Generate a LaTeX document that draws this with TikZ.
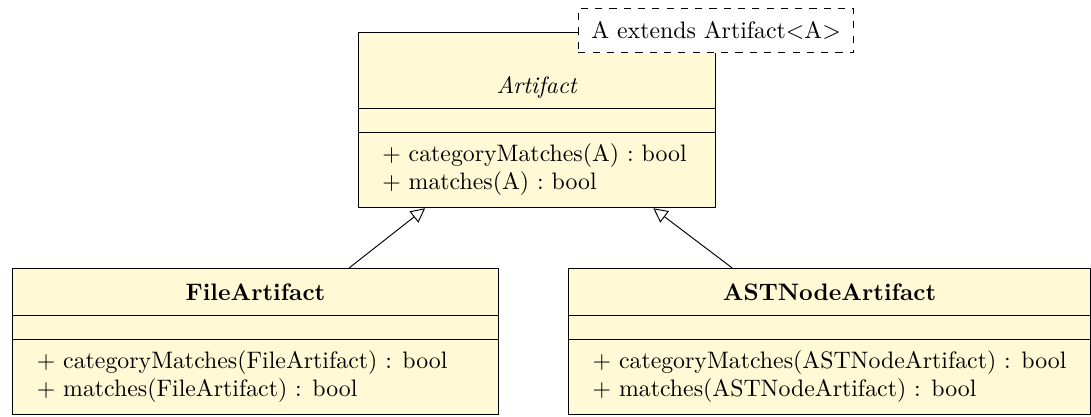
\documentclass[tikz,border=0pt]{standalone}
\usepackage{tikz}
\usetikzlibrary{shapes.multipart}
\usetikzlibrary{arrows.meta}
\usetikzlibrary{positioning}

\definecolor{umlfill}{RGB}{255,249,214}
\tikzset{
    umlclass/.style={rectangle split, rectangle split parts=3, draw, fill=umlfill,
        inner xsep=10pt, inner ysep=0pt, align=left, anchor=north,
        rectangle split part align={center, left, left}},
    umltemplate/.style={draw, dashed, fill=white, inner xsep=5.5pt, minimum height=18.5pt},
    inherit/.style={-{Triangle[open, length=6pt, width=6pt]}}
}
\newcommand{\titlestrut}{\rule[-6.1pt]{0pt}{19.3pt}}
\newcommand{\emptystrut}{\rule{0pt}{9.6pt}}
\newcommand{\firststrut}{\rule{0pt}{12pt}}
\newcommand{\laststrut}{\rule[-7.3pt]{0pt}{7.3pt}}

\begin{document}
\begin{tikzpicture}
    \useasboundingbox (0,0) rectangle (16.104,6.141);
    % classes
    \node[umlclass, minimum width=150pt] (Artifact) at (7.927,5.668) {%
        \rule[-6.1pt]{0pt}{31.5pt}\textit{Artifact}
        \nodepart{second}\emptystrut
        \nodepart{third}\firststrut+ categoryMatches(A) : bool\\+ matches(A) : bool\laststrut};
    \node[umlclass, minimum width=203.7pt] (FileArtifact) at (3.771,2.185) {%
        \titlestrut\textbf{FileArtifact}
        \nodepart{second}\emptystrut
        \nodepart{third}\firststrut+ categoryMatches(FileArtifact) : bool\\+ matches(FileArtifact) : bool\laststrut};
    \node[umlclass, minimum width=218pt] (ASTNodeArtifact) at (12.244,2.185) {%
        \titlestrut\textbf{ASTNodeArtifact}
        \nodepart{second}\emptystrut
        \nodepart{third}\firststrut+ categoryMatches(ASTNodeArtifact) : bool\\+ matches(ASTNodeArtifact) : bool\laststrut};
    % template parameter
    \node[umltemplate, yshift=0.6pt] (ArtifactTemplate) at (Artifact.north east) {A extends Artifact$<$A$>$};
    % inheritance
    \draw[inherit] (FileArtifact) -- (Artifact);
    \draw[inherit] (ASTNodeArtifact) -- (Artifact);
\end{tikzpicture}
\end{document}
